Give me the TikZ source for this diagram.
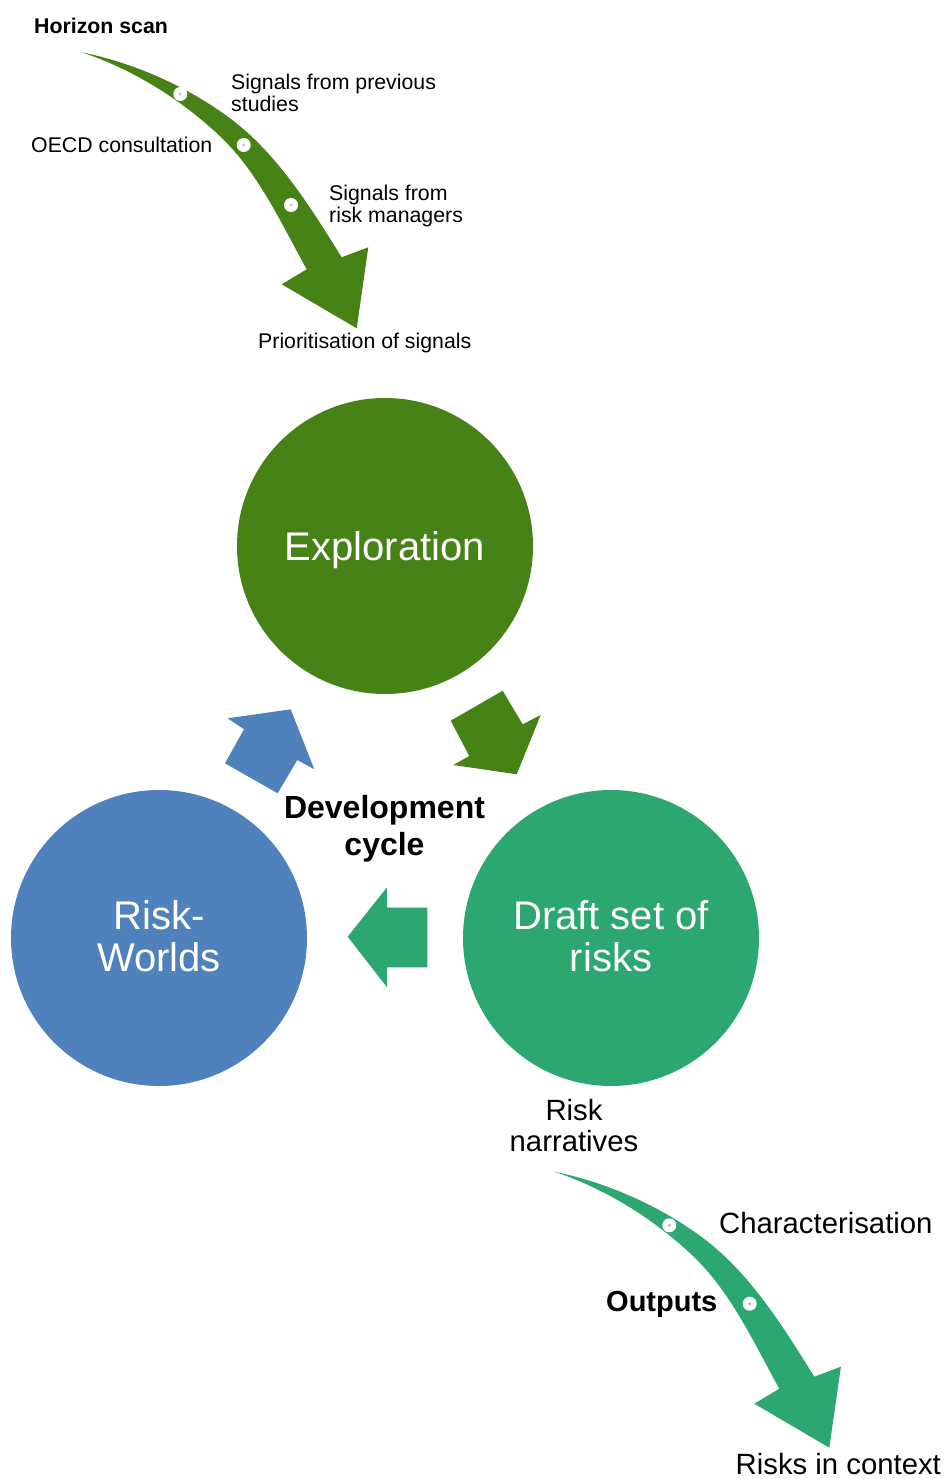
\documentclass[tikz,border=0pt]{standalone}
\usepackage{fontspec}
\setmainfont{Liberation Sans}
\definecolor{dkgreen}{RGB}{70,130,22}
\definecolor{seagreen}{RGB}{45,167,112}
\definecolor{steelblue}{RGB}{79,129,189}
\definecolor{dotgray}{RGB}{190,200,195}
\definecolor{dotblue}{RGB}{170,178,210}
\newcommand\fsz[1]{\fontsize{#1}{#1}\selectfont}
\newcommand\bendarrow[2]{%
\begin{scope}[shift={#1}]
\fill[#2] (0,0) .. controls (52.9,10.8) and (105.1,33.9) .. (148.3,66)
  .. controls (195.5,101.1) and (228.7,154.8) .. (260,205)
  -- (286.6,195) -- (275,276) -- (200,232) -- (225,217)
  .. controls (198.8,169.8) and (175.9,118.7) .. (136.3,82)
  .. controls (97.5,46) and (50.3,16.7) .. (0,0) -- cycle;
\end{scope}}
\begin{document}
\begin{tikzpicture}[x=1pt,y=-1pt,
  bigcircle/.style={circle, minimum size=296pt, inner sep=0pt},
  sigdot/.style={circle, fill=white, minimum size=14pt, inner sep=0pt},
  small/.style={inner sep=0pt, anchor=base west, font=\fsz{21.3}},
  smallbold/.style={small, font=\fsz{21.3}\bfseries},
  big/.style={inner sep=0pt, anchor=base, text=white, font=\fsz{40}},
  mid/.style={inner sep=0pt, font=\fsz{29.3}},
  midbold/.style={mid, font=\fsz{32}\bfseries}]
\useasboundingbox (0,0) rectangle (944,1479);

% top curved arrow
\bendarrow{(81.7,52.3)}{dkgreen}
\node[sigdot] (t1) at (180.3,94) {};
\node[sigdot] (t2) at (243.7,145) {};
\node[sigdot] (t3) at (291,205) {};
\foreach \d in {t1,t2,t3} \fill[dotgray] (\d) circle (1.6);

\node[smallbold] (hscan) at (34,33.4) {Horizon scan};
\node[small] (prev1) at (231,90) {Signals from previous};
\node[small] (prev2) at (231,111.7) {studies};
\node[small] (oecd) at (31,152.3) {OECD consultation};
\node[small] (rm1) at (329,201) {Signals from};
\node[small] (rm2) at (329,222.3) {risk managers};
\node[small] (prio) at (258,348.3) {Prioritisation of signals};

% circles
\node[bigcircle, fill=dkgreen] (explore) at (385,546) {};
\node[bigcircle, fill=steelblue] (worlds) at (159,938) {};
\node[bigcircle, fill=seagreen] (draft) at (611,938) {};
\node[big] (exploretext) at (385,560) {Exploration};
\node[big] (rw1) at (159,929) {Risk-};
\node[big] (rw2) at (159,971) {Worlds};
\node[big] (dr1) at (611,929) {Draft set of};
\node[big] (dr2) at (611,971) {risks};

% cycle block arrows
\fill[steelblue] (290.7,709.3) -- (227.7,718.3) -- (244,729.3) -- (225,763.3) -- (277.7,793.3) -- (297.3,760) -- (314.3,769.3) -- cycle;
\fill[dkgreen] (450.7,720.7) -- (502.7,690.7) -- (522.7,724.3) -- (540.7,715) -- (516.7,774.3) -- (453.3,765) -- (469.3,756) -- cycle;
\fill[seagreen] (347.7,936.7) -- (387,887.3) -- (387,907.7) -- (427.3,907.7) -- (427.3,967.3) -- (387,967.3) -- (387,987.3) -- cycle;

\node[midbold, anchor=base] (dev1) at (384.5,818.3) {Development};
\node[midbold, anchor=base] (dev2) at (384.5,855.7) {cycle};

% outputs
\node[mid, anchor=base] (rn1) at (574,1120) {Risk};
\node[mid, anchor=base] (rn2) at (574,1151) {narratives};
\bendarrow{(554.3,1171.7)}{seagreen}
\node[sigdot] (b1) at (669.3,1225.3) {};
\node[sigdot] (b2) at (749.7,1303.7) {};
\foreach \d in {b1,b2} \fill[dotblue] (\d) circle (1.6);
\node[mid, anchor=base west] (charac) at (719,1233.3) {Characterisation};
\node[mid, anchor=base west, font=\fsz{29}\bfseries] (outputs) at (606,1311.7) {Outputs};
\node[mid, anchor=base west] (ric) at (735.5,1474) {Risks in context};
\end{tikzpicture}
\end{document}
